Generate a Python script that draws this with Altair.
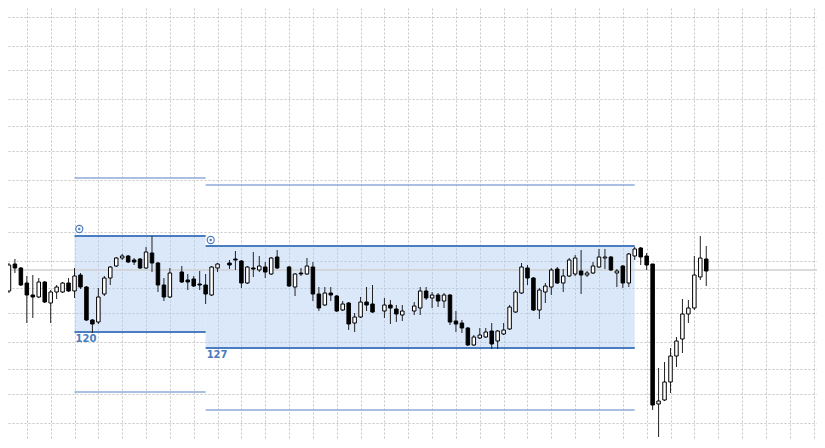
import altair as alt
import pandas as pd

# ---- candle data (bar index, OHLC in price units) ----
bars = (list(range(0, 29)) + list(range(30, 37)) + list(range(38, 47)) +
        list(range(48, 63)) + list(range(64, 68)) + list(range(69, 119)))

opens = [
    1174, 1209, 1236, 1232, 1217, 1205, 1203, 1218, 1197, 1208, 1208, 1217, 1209, 1225, 1213, 1180, 1178, 1206, 1222, 1234, 1242, 1244, 1240, 1241, 1232, 1247, 1237, 1215, 1203,
    1228, 1220, 1221, 1216, 1215, 1205, 1232,
    1237, 1241, 1239, 1217, 1232, 1230, 1233, 1226, 1243,
    1233, 1213, 1227, 1226, 1233, 1206, 1195, 1207, 1204, 1190, 1197, 1177, 1183, 1198, 1196,
    1189, 1195, 1191, 1185,
    1189, 1192, 1209, 1202, 1205, 1199, 1205, 1179, 1177, 1172, 1155, 1162, 1163, 1169, 1159, 1166, 1171, 1188, 1207, 1232, 1222, 1190, 1208, 1213, 1231, 1217, 1224, 1226, 1229, 1225, 1227, 1233, 1242, 1243, 1227, 1234, 1217, 1244, 1252, 1244, 1236, 1096, 1100, 1118, 1144, 1161, 1186, 1192, 1223, 1241,
]
highs = [
    1210, 1237, 1241, 1233, 1224, 1225, 1222, 1219, 1210, 1215, 1218, 1222, 1232, 1227, 1214, 1181, 1212, 1224, 1234, 1243, 1246, 1245, 1242, 1242, 1253, 1264, 1238, 1222, 1232,
    1234, 1226, 1224, 1229, 1226, 1234, 1237,
    1240, 1249, 1240, 1234, 1248, 1244, 1238, 1243, 1250,
    1234, 1227, 1232, 1242, 1238, 1213, 1213, 1213, 1205, 1199, 1198, 1187, 1203, 1213, 1215,
    1202, 1200, 1195, 1195,
    1198, 1213, 1213, 1208, 1207, 1207, 1206, 1189, 1180, 1173, 1165, 1172, 1172, 1177, 1170, 1177, 1195, 1210, 1237, 1235, 1223, 1212, 1217, 1232, 1233, 1231, 1242, 1245, 1250, 1229, 1238, 1251, 1251, 1244, 1231, 1235, 1247, 1253, 1253, 1247, 1236, 1132, 1138, 1152, 1163, 1201, 1200, 1244, 1264, 1254,
]
lows = [
    1166, 1207, 1227, 1214, 1177, 1182, 1202, 1197, 1177, 1201, 1207, 1208, 1202, 1211, 1179, 1167, 1176, 1204, 1215, 1233, 1240, 1237, 1235, 1231, 1231, 1228, 1208, 1199, 1202,
    1217, 1210, 1213, 1210, 1196, 1204, 1228,
    1231, 1230, 1212, 1216, 1223, 1228, 1222, 1225, 1231,
    1213, 1204, 1224, 1225, 1199, 1189, 1194, 1199, 1188, 1189, 1170, 1168, 1182, 1189, 1187,
    1182, 1176, 1178, 1179,
    1185, 1185, 1200, 1192, 1193, 1192, 1175, 1168, 1167, 1154, 1154, 1161, 1162, 1151, 1151, 1165, 1170, 1187, 1206, 1215, 1189, 1181, 1197, 1205, 1216, 1208, 1223, 1224, 1206, 1223, 1226, 1232, 1231, 1229, 1213, 1212, 1213, 1240, 1235, 1230, 1090, 1063, 1099, 1107, 1133, 1147, 1177, 1190, 1220, 1214,
]
closes = [
    1207, 1235, 1232, 1215, 1205, 1203, 1218, 1198, 1208, 1213, 1217, 1209, 1224, 1213, 1180, 1176, 1203, 1222, 1233, 1242, 1244, 1238, 1238, 1232, 1248, 1237, 1215, 1203, 1227,
    1218, 1218, 1214, 1215, 1206, 1233, 1236,
    1235, 1240, 1217, 1233, 1231, 1234, 1228, 1242, 1232,
    1214, 1226, 1226, 1234, 1206, 1192, 1207, 1205, 1189, 1196, 1176, 1183, 1198, 1195, 1188,
    1195, 1192, 1186, 1189,
    1194, 1209, 1202, 1205, 1199, 1205, 1178, 1176, 1172, 1155, 1163, 1165, 1168, 1156, 1169, 1170, 1193, 1208, 1233, 1222, 1190, 1210, 1214, 1230, 1217, 1224, 1240, 1242, 1225, 1227, 1234, 1243, 1243, 1230, 1229, 1217, 1246, 1251, 1243, 1235, 1095, 1099, 1118, 1144, 1159, 1186, 1192, 1225, 1242, 1229,
]

# ---- range boxes ----
box_start = [12, 34]
box_end = [34, 106]
box_top = [1264, 1254]
box_bottom = [1168, 1152]
ext_top = [1322, 1315]
ext_bottom = [1108, 1090]
box_labels = ["120", "127"]
marker_bars = [12.8, 34.85]
marker_prices = [1271, 1260]

current_price = [1230]

# ---- grid levels ----
grid_bars = list(range(4, 140, 4))
grid_prices = [1482.5, 1454.5, 1429.7, 1401.3, 1373.7, 1348.7, 1320.3, 1292.7,
               1267.7, 1239.3, 1211.7, 1186.7, 1158.3, 1130.7, 1105.7, 1077.3]

n = min(len(bars), len(opens), len(highs), len(lows), len(closes))
candles = pd.DataFrame({"bar": bars[:n], "open": opens[:n], "high": highs[:n],
                        "low": lows[:n], "close": closes[:n]})
boxes = pd.DataFrame({"start": box_start, "end": box_end, "top": box_top,
                      "bottom": box_bottom, "ext_top": ext_top,
                      "ext_bottom": ext_bottom, "label": box_labels,
                      "mbar": marker_bars, "mprice": marker_prices})
price_df = pd.DataFrame({"price": current_price})

W, H = 809, 432
xs = alt.Scale(domain=[0.839, 136.58], nice=False, zero=False, padding=0)
ys = alt.Scale(domain=[1060, 1492], nice=False, zero=False, padding=0)
grid_color = "#c6c6c6"
x_axis = alt.Axis(values=grid_bars, grid=True, gridDash=[2, 2], gridColor=grid_color,
                  gridWidth=1, labels=False, ticks=False, domain=False, title=None)
y_axis = alt.Axis(values=grid_prices, grid=True, gridDash=[2, 2], gridColor=grid_color,
                  gridWidth=1, labels=False, ticks=False, domain=False, title=None)

def X(f):
    return alt.X(f, scale=xs, axis=x_axis)

def Y(f):
    return alt.Y(f, scale=ys, axis=y_axis)

blue = "#4a7cc0"
ext_blue = "#8eaad8"

box_fill = alt.Chart(boxes).mark_rect(color="#b0cdf5", opacity=0.45).encode(
    x=X("start:Q"), x2="end:Q", y=Y("top:Q"), y2="bottom:Q")
ext_hi = alt.Chart(boxes).mark_rule(color=ext_blue, strokeWidth=1.4).encode(
    x=X("start:Q"), x2="end:Q", y=Y("ext_top:Q"))
ext_lo = alt.Chart(boxes).mark_rule(color=ext_blue, strokeWidth=1.4).encode(
    x=X("start:Q"), x2="end:Q", y=Y("ext_bottom:Q"))
top_line = alt.Chart(boxes).mark_rule(color=blue, strokeWidth=2).encode(
    x=X("start:Q"), x2="end:Q", y=Y("top:Q"))
bot_line = alt.Chart(boxes).mark_rule(color=blue, strokeWidth=2).encode(
    x=X("start:Q"), x2="end:Q", y=Y("bottom:Q"))
labels = alt.Chart(boxes).mark_text(color=blue, align="left", baseline="top",
                                    dx=1, dy=2, fontSize=10, fontWeight="bold",
                                    font="DejaVu Sans").encode(
    x=X("start:Q"), y=Y("bottom:Q"), text="label:N")
ring = alt.Chart(boxes).mark_point(shape="circle", filled=False, color=blue,
                                   size=50, strokeWidth=1.2, opacity=1).encode(
    x=X("mbar:Q"), y=Y("mprice:Q"))
dot = alt.Chart(boxes).mark_circle(color=blue, size=6, opacity=1).encode(
    x=X("mbar:Q"), y=Y("mprice:Q"))

price_line = alt.Chart(price_df).mark_rule(color="#cfcfcf", strokeWidth=1.5).encode(
    x=alt.value(0), x2=alt.value(W), y=Y("price:Q"))

wicks = alt.Chart(candles).mark_rule(color="#222222", strokeWidth=1).encode(
    x=X("bar:Q"), y=Y("low:Q"), y2="high:Q")
bodies = alt.Chart(candles).mark_bar(size=3.5, stroke="#000000", strokeWidth=1).encode(
    x=X("bar:Q"), y=Y("open:Q"), y2="close:Q",
    fill=alt.condition("datum.close >= datum.open", alt.value("#ffffff"),
                       alt.value("#000000")))

chart = alt.layer(box_fill, ext_hi, ext_lo, top_line, bot_line, price_line,
                  wicks, bodies, ring, dot, labels).properties(
    width=W, height=H, padding=0, autosize="none", background="#ffffff"
).configure_view(stroke=None)

chart.save("out.html", embed_options={"renderer": "svg", "actions": False})
